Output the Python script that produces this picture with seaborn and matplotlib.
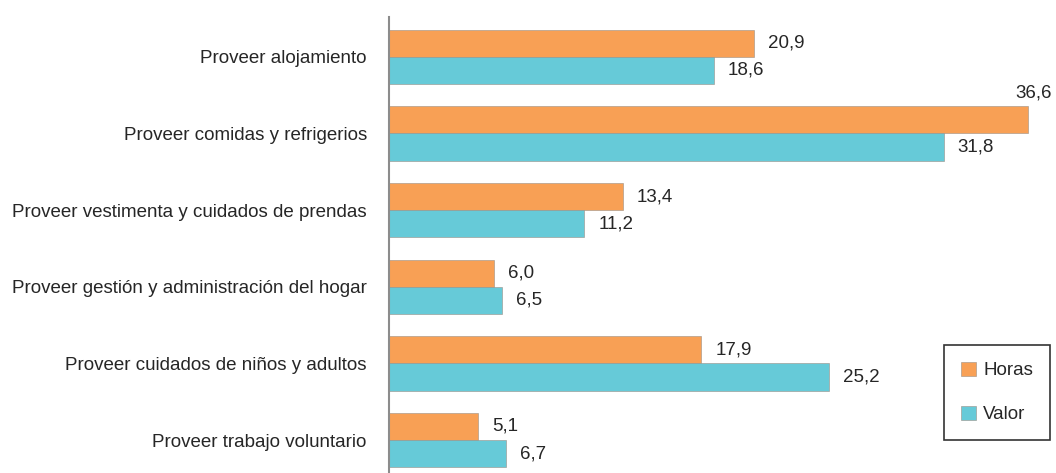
import matplotlib.pyplot as plt
import pandas as pd
import seaborn as sns

categorias = [
    "Proveer alojamiento",
    "Proveer comidas y refrigerios",
    "Proveer vestimenta y cuidados de prendas",
    "Proveer gestión y administración del hogar",
    "Proveer cuidados de niños y adultos",
    "Proveer trabajo voluntario",
]
horas = [20.9, 36.6, 13.4, 6.0, 17.9, 5.1]
valor = [18.6, 31.8, 11.2, 6.5, 25.2, 6.7]
series = ["Horas", "Valor"]
colores = ["#F8A055", "#66CAD8"]

data = pd.DataFrame({
    "Categoria": categorias * 2,
    "Porcentaje": horas + valor,
    "Serie": ["Horas"] * len(horas) + ["Valor"] * len(valor),
})

sns.set_style("white")
plt.rcParams['font.family'] = ['Liberation Sans', 'DejaVu Sans']

fig = plt.figure(figsize=(10.56, 4.73), dpi=100)
ax = fig.add_axes([389 / 1056, 0, (1045 - 389) / 1056, (473 - 17) / 473])

sns.barplot(data=data, x="Porcentaje", y="Categoria", hue="Serie",
            hue_order=series, palette=colores, orient="h", width=0.71,
            saturation=1, edgecolor="#9a8f85", linewidth=0.4, ax=ax)

ax.set_xlim(0, 37.6)
ax.set_ylim(5.43, -0.52)
ax.set_xlabel("")
ax.set_ylabel("")
ax.set_xticks([])
for side in ["top", "right", "bottom"]:
    ax.spines[side].set_visible(False)
ax.spines["left"].set_color("#8c8c8c")
ax.spines["left"].set_linewidth(1.5)
ax.tick_params(axis="y", length=0, pad=16, labelsize=13.5)

for cont in ax.containers:
    textos = ax.bar_label(cont, labels=[f"{v:.1f}".replace(".", ",") for v in cont.datavalues],
                          padding=10, fontsize=13.5)
    for t, v in zip(textos, cont.datavalues):
        # la etiqueta más larga va encima del final de la barra
        if v > 35:
            t.xyann = (4, 19)
            t.set_ha("center")

leg = ax.legend(loc="lower right", bbox_to_anchor=(1.0076, 0.072), borderaxespad=0,
                fontsize=13.5, frameon=True, fancybox=False, edgecolor="black",
                handlelength=0.8, handleheight=0.8, labelspacing=1.4, borderpad=0.9,
                handletextpad=0.4)
leg.get_frame().set_linewidth(1.2)

fig.savefig("out.png", dpi=100)
